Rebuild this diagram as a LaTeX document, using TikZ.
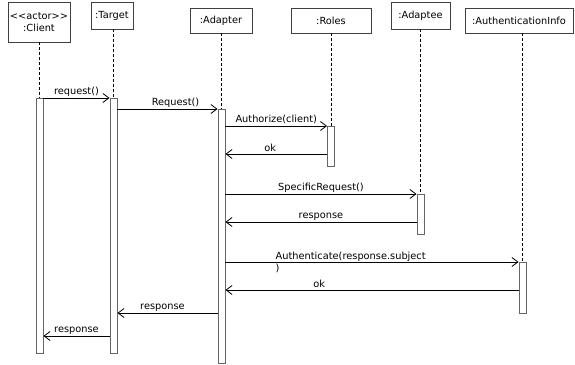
\documentclass[tikz,border=0pt]{standalone}
\usepackage{fontspec}
\setmainfont{DejaVu Sans}
\usepackage{tikz}
\usetikzlibrary{arrows.meta}
\tikzset{%
  object box/.style={
    rectangle,
    draw=black!75,
    fill=white,
    line width=0.8pt,
    inner sep=1pt,
    align=center
  },
  activation/.style={
    rectangle,
    draw=black!60,
    fill=white,
    line width=0.9pt,
    minimum width=7pt,
    inner sep=0pt,
    anchor=north
  },
  lifeline/.style={
    dash pattern=on 3pt off 2pt,
    line width=0.7pt
  },
  message/.style={
    ->,
    line width=0.8pt
  },
  message label/.style={
    above,
    inner sep=1.5pt
  },
}

\begin{document}
\begin{tikzpicture}[x=1pt, y=-1pt, >={Straight Barb[length=6pt,width=9pt]},
  every node/.style={font=\fontsize{9.8}{11.5}\selectfont}]

  \useasboundingbox (0,0) rectangle (575,364);

  % Object heads
  \node [object box, minimum width=62pt, minimum height=40pt] (client) at (39,22) {<\kern0pt<actor>\kern0pt>\\:Client};
  \node [object box, minimum width=42pt, minimum height=27pt] (target) at (112,15.5) {:Target};
  \node [object box, minimum width=62pt, minimum height=25pt] (adapter) at (221,20.5) {:Adapter};
  \node [object box, minimum width=80pt, minimum height=25pt] (roles) at (331,20.5) {:Roles};
  \node [object box, minimum width=59pt, minimum height=27pt] (adaptee) at (420.5,15.5) {:Adaptee};
  \node [object box, minimum width=108pt, minimum height=25pt] (auth) at (519,20.5) {:AuthenticationInfo};

  % Activation bars
  \node [activation, minimum height=255pt] (client-act) at (39.5,98) {};
  \node [activation, minimum height=255pt] (target-act) at (113.5,98) {};
  \node [activation, minimum height=254pt] (adapter-act) at (221.5,109) {};
  \node [activation, minimum height=40pt] (roles-act) at (331,126) {};
  \node [activation, minimum height=40pt] (adaptee-act) at (420.5,194) {};
  \node [activation, minimum height=51pt] (auth-act) at (522.5,262) {};

  % Lifelines from heads down to the bars
  \foreach \obj in {client,target,adapter,roles,adaptee,auth}
    \draw [lifeline] (\obj-act.north |- \obj.south) -- (\obj-act.north);

  % Rows of the return messages
  \coordinate (row-ok-roles) at (0,154);
  \coordinate (row-response) at (0,222);
  \coordinate (row-ok-auth) at (0,290);
  \coordinate (row-back-target) at (0,313);
  \coordinate (row-back-client) at (0,336);

  % Calls
  \draw [message] (client-act.north east) -- (target-act.north west)
    node [message label, midway] {request()};
  \draw [message] (target-act.east |- adapter-act.north) -- (adapter-act.north west)
    node [message label, pos=0.58] {Request()};
  \draw [message] (adapter-act.east |- roles-act.north) -- (roles-act.north west)
    node [message label, midway] {Authorize(client)};
  \draw [message] (adapter-act.east |- adaptee-act.north) -- (adaptee-act.north west)
    node [message label, midway] {SpecificRequest()};
  \draw [message] (adapter-act.east |- auth-act.north) -- (auth-act.north west)
    node [pos=0.17, anchor=north west, align=left, inner sep=0pt, yshift=10pt] {Authenticate(response.subject\\)};

  % Replies
  \draw [message] (roles-act.west |- row-ok-roles) -- (adapter-act.east |- row-ok-roles)
    node [message label, pos=0.56] {ok};
  \draw [message] (adaptee-act.west |- row-response) -- (adapter-act.east |- row-response)
    node [message label, midway] {response};
  \draw [message] (auth-act.west |- row-ok-auth) -- (adapter-act.east |- row-ok-auth)
    node [message label, pos=0.68] {ok};
  \draw [message] (adapter-act.west |- row-back-target) -- (target-act.east |- row-back-target)
    node [message label, pos=0.55] {response};
  \draw [message] (target-act.west |- row-back-client) -- (client-act.east |- row-back-client)
    node [message label, midway] {response};

\end{tikzpicture}
\end{document}
